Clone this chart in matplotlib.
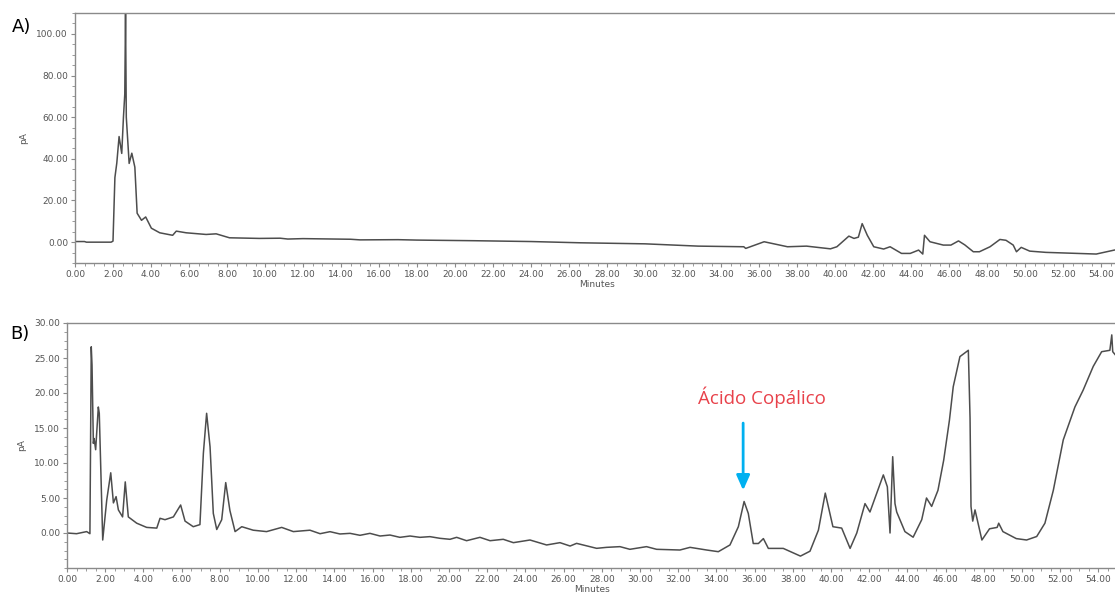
import numpy as np
import matplotlib
matplotlib.use("Agg")
import matplotlib.pyplot as plt
from matplotlib.ticker import MultipleLocator, FormatStrFormatter

# chromatogram A (minutes, pA)
time_a = [0.0, 0.5, 0.6, 1.9, 2.0, 2.1, 2.2, 2.32, 2.46, 2.55, 2.62, 2.66, 2.7,
          2.85, 2.99, 3.15, 3.27, 3.5, 3.72, 4.02, 4.46, 5.14, 5.33, 5.85, 6.9,
          7.43, 8.13, 9.7, 10.8, 11.2, 12.0, 14.5, 15.0, 17.0, 18.0, 21.0,
          24.0, 26.6, 30.0, 32.8, 35.2, 35.3, 36.27, 37.5, 38.5, 39.76, 40.1,
          40.73, 41.0, 41.23, 41.43, 41.7, 42.04, 42.56, 42.9, 43.5, 43.96,
          44.4, 44.62, 44.71, 45.0, 45.7, 46.1, 46.5, 46.83, 47.28, 47.6,
          48.16, 48.68, 49.0, 49.38, 49.55, 49.8, 50.25, 51.1, 53.75, 54.7]
signal_a = [0.3, 0.3, 0.0, 0.0, 0.5, 31.0, 38.0, 50.7, 42.6, 60.0, 71.0, 110.0,
            60.0, 37.8, 42.7, 36.0, 13.9, 10.5, 12.1, 6.7, 4.5, 3.3, 5.3, 4.5,
            3.7, 4.0, 2.1, 1.8, 1.9, 1.5, 1.7, 1.4, 1.1, 1.2, 1.0, 0.7,
            0.3, -0.3, -0.8, -1.9, -2.2, -3.0, 0.2, -2.2, -1.9, -3.2, -2.2,
            2.9, 1.8, 2.4, 8.9, 3.3, -2.2, -3.3, -2.2, -5.4, -5.4,
            -3.8, -5.7, 3.3, 0.2, -1.4, -1.4, 0.6, -1.3, -4.6, -4.6,
            -2.2, 1.3, 0.9, -1.4, -4.6, -2.5, -4.3, -4.9, -5.7, -3.8]

# chromatogram B
time_b = [0.0, 0.5, 1.03, 1.2, 1.27, 1.31, 1.38, 1.42, 1.5, 1.64, 1.69, 1.87,
          2.08, 2.29, 2.43, 2.57, 2.69, 2.91, 3.05, 3.21, 3.65, 4.17, 4.7,
          4.87, 5.13, 5.57, 5.95, 6.18, 6.61, 6.96, 7.14, 7.31, 7.49, 7.66,
          7.84, 8.1, 8.31, 8.53, 8.8, 9.15, 9.75, 10.45, 11.24, 11.85, 12.72,
          13.25, 13.77, 14.29, 14.82, 15.34, 15.86, 16.39, 16.91, 17.43,
          17.96, 18.48, 19.0, 19.53, 20.05, 20.4, 20.92, 21.62, 22.15, 22.84,
          23.37, 24.24, 25.11, 25.81, 26.34, 26.68, 27.73, 28.25, 28.95,
          29.47, 30.34, 30.87, 32.09, 32.62, 33.49, 34.1, 34.71, 35.15,
          35.45, 35.67, 35.93, 36.2, 36.46, 36.72, 37.5, 38.4, 38.9, 39.34,
          39.7, 40.1, 40.56, 41.0, 41.35, 41.78, 42.04, 42.74, 42.95, 43.09,
          43.23, 43.35, 43.44, 43.87, 44.3, 44.75, 45.0, 45.27, 45.6, 45.9,
          46.2, 46.4, 46.75, 47.19, 47.28, 47.33, 47.42, 47.54, 47.9, 48.3,
          48.7, 48.78, 49.0, 49.7, 50.24, 50.77, 51.2, 51.64, 52.16, 52.77,
          53.2, 53.73, 54.17, 54.6, 54.7, 54.75, 54.9]
signal_b = [0.0, -0.1, 0.2, -0.1, 26.6, 24.0, 12.8, 13.5, 11.9, 18.0, 17.1, -1.0,
            4.7, 8.6, 4.3, 5.2, 3.3, 2.3, 7.3, 2.3, 1.4, 0.8, 0.7,
            2.1, 1.9, 2.3, 4.0, 1.7, 0.9, 1.2, 11.4, 17.1, 12.3, 2.8,
            0.5, 1.9, 7.2, 3.2, 0.2, 0.9, 0.4, 0.2, 0.8, 0.2, 0.4,
            -0.1, 0.19, -0.14, -0.05, -0.33, -0.05, -0.43, -0.29, -0.62,
            -0.43, -0.62, -0.52, -0.76, -0.9, -0.62, -1.1, -0.62, -1.1, -0.9,
            -1.38, -1.0, -1.71, -1.38, -1.86, -1.48, -2.19, -2.05, -1.95,
            -2.33, -1.95, -2.33, -2.43, -2.05, -2.43, -2.67, -1.71, 0.9,
            4.5, 2.8, -1.5, -1.5, -0.8, -2.2, -2.2, -3.3, -2.6, 0.4,
            5.7, 0.9, 0.7, -2.2, 0.0, 4.2, 3.0, 8.3, 6.6, 0.0,
            10.9, 4.2, 3.0, 0.2, -0.6, 1.9, 5.0, 3.8, 6.1, 10.4,
            16.1, 20.9, 25.2, 26.1, 16.4, 3.8, 1.7, 3.3, -1.0, 0.6,
            0.8, 1.4, 0.2, -0.8, -1.0, -0.5, 1.4, 6.1, 13.3, 18.0,
            20.4, 23.8, 25.9, 26.1, 28.3, 25.9, 25.4]

x_ticks = np.arange(0, 56, 2)
line_col = "#4d4d4d"
frame_col = "#8a8a8a"
tick_col = "#555555"

fig = plt.figure(figsize=(11.15, 5.94), dpi=100)
ax_a = fig.add_axes([75 / 1115, 1 - 263 / 594, 1045 / 1115, 250 / 594])
ax_b = fig.add_axes([67 / 1115, 1 - 568 / 594, 1050.5 / 1115, 245 / 594])

ax_a.plot(time_a, signal_a, color=line_col, lw=1.1)
ax_b.plot(time_b, signal_b, color=line_col, lw=1.1)

ax_a.set_ylim(-10, 110)
ax_a.set_yticks(np.arange(0, 101, 20))
ax_a.yaxis.set_minor_locator(MultipleLocator(5))
ax_b.set_ylim(-5, 30)
ax_b.set_yticks(np.arange(0, 31, 5))
ax_b.yaxis.set_minor_locator(MultipleLocator(1.25))

for ax in [ax_a, ax_b]:
    ax.set_xlim(0, 55)
    ax.set_xticks(x_ticks)
    ax.xaxis.set_minor_locator(MultipleLocator(0.5))
    ax.xaxis.set_major_formatter(FormatStrFormatter("%.2f"))
    ax.yaxis.set_major_formatter(FormatStrFormatter("%.2f"))
    ax.tick_params(which="major", direction="out", length=3, width=0.8,
                   color=frame_col, labelsize=6.5, labelcolor=tick_col, pad=2)
    ax.tick_params(which="minor", direction="out", length=2, width=0.6,
                   color=frame_col)
    for s in ax.spines.values():
        s.set_color(frame_col)
        s.set_linewidth(1.0)
    ax.set_xlabel("Minutes", fontsize=6.5, color=tick_col, labelpad=1)
    ax.set_ylabel("pA", fontsize=6.5, color=tick_col, labelpad=6)

fig.text(12 / 1115, 1 - 27 / 594, "A)", fontsize=13, va="center", ha="left")
fig.text(10 / 1115, 1 - 334 / 594, "B)", fontsize=13, va="center", ha="left")

ax_b.annotate("", xy=(35.4, 5.7), xytext=(35.4, 16.1),
              arrowprops=dict(arrowstyle="-|>,head_width=0.4,head_length=0.9",
                              color="#00b0f0", lw=2))
ax_b.text(36.4, 19.4, "Ácido Copálico", color="#e8414a", fontsize=13.5,
          ha="center", va="center", family="Open Sans")

fig.savefig("out.png", dpi=100)
